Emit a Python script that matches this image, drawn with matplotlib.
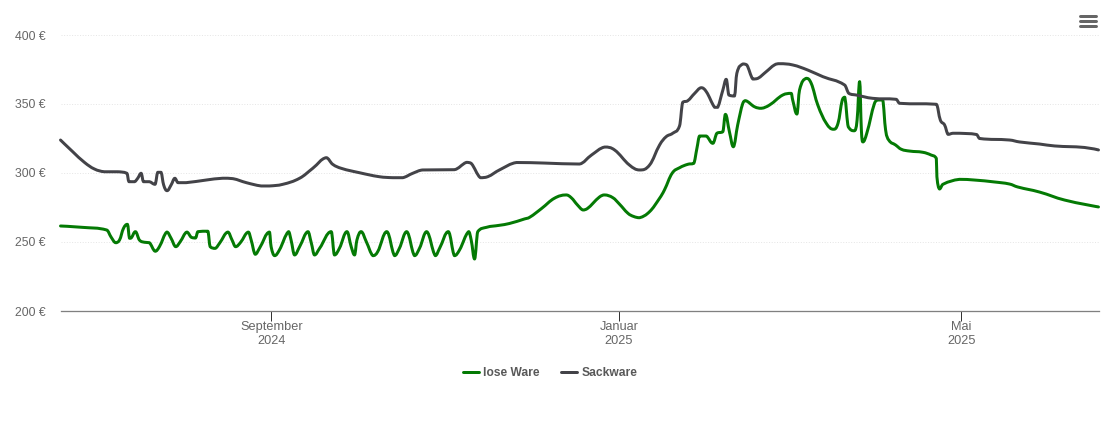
import numpy as np
import matplotlib
matplotlib.use("Agg")
import matplotlib.pyplot as plt
import matplotlib.dates as mdates
from matplotlib.lines import Line2D
from matplotlib.patches import PathPatch
from matplotlib.path import Path

plt.rcParams['font.family'] = ['Liberation Sans', 'DejaVu Sans']

# Tage seit dem Start der Zeitachse, Preise in Euro
START = "2024-06-19"
ENDE_TAGE = 364.2

tage_lose = [0, 7.8, 16.2, 17.8, 19.3, 20.7, 22.1, 23.5, 24.2, 24.8, 26.3, 27.7, 29.5, 31.2, 33.2, 34.7,
             37.3, 38.8, 40.4, 42, 44.3, 45.9, 47.4, 48.2, 51.7, 52.5, 54.3, 55.8, 58.7, 60.2, 61.4, 63.1,
             65.9, 66.9, 68.3, 69.8, 73.3, 73.9, 75.1, 76.8, 80, 80.9, 82.1, 83.9, 86.8, 88, 89.1, 90.9,
             95, 96.1, 97.9, 100.5, 102, 103.2, 104, 105.5, 107.3, 109.6, 111.3, 114.5, 117.2, 118.9,
             121.5, 124.2, 126, 128.5, 131.5, 133, 136.1, 138.2, 140, 143.2, 144.1, 145.3, 146.4, 149.4,
             154, 157.5, 162.8, 164.6, 168.8, 173.3, 177.4, 179.2, 181.4, 183.3, 184.9, 186.8, 189.1,
             190.9, 193.8, 196.1, 199.1, 201.1, 203.2, 206.7, 210.2, 211.9, 214.6, 217.2, 220.1, 222.2,
             223.3, 224.2, 226.6, 228.9,
             230.3, 232.4, 233.3, 234.7, 236.1, 237.6, 239.4, 240.4, 243.5, 245.9, 248.8, 253.4, 256.4,
             256.9, 258.4, 259.3, 261.6, 263.4, 265.7, 268.7, 271.2, 272.8, 274.3, 275.2, 276.4, 278.6,
             279.5, 280.4, 281, 281.5, 282.9, 285.6, 286.8, 288.5, 289.5, 290.6, 293, 295, 297.9, 302.6,
             305.5, 307.3, 307.5, 308.4, 309.6, 315.4, 320.7, 327.7, 333, 335.8, 343.5, 352.3, 364.2]
preis_lose = [261.6, 260.6, 258.7, 253.4, 249.5, 251.4, 259.9, 262.8, 252.7, 252.9, 257.5, 251.4, 249.8, 249.5, 243.3, 246.6,
              257.2, 252.7, 246.6, 250.2, 257.2, 253.4, 252.9, 257.5, 257.8, 246.6, 245.4, 249.1, 257.2, 251.4, 246.6, 249.5,
              257.2, 251.4, 241.1, 245.4, 257.2, 246.6, 240.1, 244.2, 257.5, 251.4, 240.6, 246.6, 257.5, 249.3, 240.6, 245.4,
              257.5, 240.6, 245.6, 257.5, 246.6, 240.6, 251.4, 257.5, 250.2, 240.1, 243, 257.5, 240.1, 245.4,
              257.5, 240.1, 245.6, 257.5, 240.1, 245.4, 257.5, 240.1, 244.2, 257.5, 251.4, 237.7, 257.5, 260.6,
              262.1, 263.4, 266.7, 267.9, 274.3, 281.7, 284.1, 282.1, 276.8, 273.2, 274.3, 278, 282.6,
              284.1, 282.1, 277.5, 270.8, 268.5, 267.6, 272, 281.7, 287.7, 299.8, 303.8, 306.3, 307,
              317.9, 326.8, 326.8, 321.5,
              328.8, 329.9, 342.5, 329.9, 319, 334.8, 350.5, 352.4, 348, 346.9, 349.3, 356.5, 357.7,
              352.9, 342.7, 360.1, 368.6, 365, 349.3, 336, 331.7, 336, 352.9, 354.9, 333.5, 330.6,
              338.4, 366.2, 331.2, 322.5, 328.8, 350.5, 352.9, 352.9, 331.2, 323.9, 320.3, 317.2, 315.9, 315,
              313, 310.6, 297.3, 288.4, 291.8, 295.4, 294.9, 293.5, 292, 289.9, 286.2, 280.4, 275.4]

tage_sack = [0, 4.3, 8.4, 11.9, 15.4, 20.1, 23.3, 24, 26, 27.1, 28.3, 29.1, 31.2, 33.2, 34.1, 35.3, 36.2, 37.4,
             38.8, 40.1, 41.2, 44.1, 51.1, 56.9, 60.5, 65.2, 70.4, 73.3, 78, 83.9, 88.5, 93.2, 95.5, 98.5,
             104.9, 111.9, 116.6, 120.1, 123.6, 127.1, 138.2, 142.4, 144.1, 147.3, 149.9, 154, 160, 169.8,
             182.1, 186.3, 190.9, 194.4, 199.6, 203.2, 206.7, 210.2, 212.5, 214.8, 217.2, 218.3, 220.1,
             222.5, 224.8, 226.6, 229.5, 230.6, 232.4, 233.6, 234.5, 236.5, 237.3, 239.4, 240.8, 242.9,
             244.7, 247.6, 250.5, 252.3, 256.9, 262.2, 267.5, 275.1, 276.6, 279.2, 285, 293.2, 294.4,
             307.3, 308.7, 310.2, 311.4, 313.1, 315.4, 321.4, 322.5, 333, 336.5, 343.5, 348.8, 359.3, 364.2]
preis_sack = [323.9, 315.4, 307.7, 302.9, 300.9, 300.9, 299.8, 293.7, 293.7, 296.2, 299.8, 293.7, 293.7, 291.8, 300.5, 300.5, 291.3, 287.2,
              291.3, 296.2, 293, 293, 294.9, 296.2, 295.9, 293, 290.6, 290.6, 291.8, 296.2, 303.4, 311.1, 306.3, 303.4,
              300.2, 297.3, 296.6, 296.6, 299.8, 302.2, 302.4, 307.7, 307, 296.6, 297.3, 302.2, 307.6, 307.2,
              306.5, 313, 318.8, 316.7, 305.8, 302.2, 305.8, 320.3, 326.3, 328.8, 334.1, 351.2, 352.4,
              357.7, 361.8, 358.9, 347.6, 347.6, 360.1, 367.9, 356.5, 355.8, 372.2, 379, 378.3, 368.1,
              368.6, 373.4, 378.3, 379.2, 378.3, 374.6, 369.8, 363.8, 357.7, 356.5, 354.1, 353.4, 350.5,
              349.8, 338.4, 334.8, 328, 328.8, 328.8, 327.9, 325, 323.9, 322.5, 321, 319.6, 318.5, 316.7]

y_ticks = [200, 250, 300, 350, 400]
x_tick_daten = ["2024-09-01", "2025-01-01", "2025-05-01"]
x_tick_namen = ["September\n2024", "Januar\n2025", "Mai\n2025"]

GRUEN = '#047a04'
GRAU = '#434348'
TEXT = '#666666'


def spline_pfad(x, y, smoothing=1.5):
    """Bezier-Pfad durch die Messpunkte, Kontrollpunkte wie bei einer Highcharts-Spline."""
    x = np.asarray(x, dtype=float)
    y = np.asarray(y, dtype=float)
    d = smoothing + 1
    verts = [(x[0], y[0])]
    codes = [Path.MOVETO]
    links = [None] * len(x)
    rechts = [None] * len(x)
    rechts[0] = (x[0], y[0])
    links[-1] = (x[-1], y[-1])
    for i in range(1, len(x) - 1):
        lx = (smoothing * x[i] + x[i - 1]) / d
        ly = (smoothing * y[i] + y[i - 1]) / d
        rx = (smoothing * x[i] + x[i + 1]) / d
        ry = (smoothing * y[i] + y[i + 1]) / d
        # Tangente so verschieben dass sie durch den Punkt geht
        kor = 0.0
        if rx != lx:
            kor = ((ry - ly) * (rx - x[i])) / (rx - lx) + y[i] - ry
        # kein Ueberschwingen ueber die Nachbarpunkte hinaus
        ly = np.clip(ly + kor, min(y[i - 1], y[i]), max(y[i - 1], y[i]))
        ry = np.clip(ry + kor, min(y[i + 1], y[i]), max(y[i + 1], y[i]))
        links[i] = (lx, ly)
        rechts[i] = (rx, ry)
    for i in range(1, len(x)):
        verts += [rechts[i - 1], links[i], (x[i], y[i])]
        codes += [Path.CURVE4] * 3
    return Path(verts, codes)


start_num = mdates.date2num(np.datetime64(START))
px = 1 / 100 * 72  # 1 Pixel in Punkten bei dpi=100

fig = plt.figure(figsize=(11.10, 4.22), dpi=100)
ax = fig.add_axes([60.5 / 1110, 1 - 311 / 422, 1038 / 1110, (311 - 35) / 422])

for name, tage, preis, farbe in [('lose', tage_lose, preis_lose, GRUEN), ('sack', tage_sack, preis_sack, GRAU)]:
    pfad = spline_pfad(start_num + np.array(tage), preis)
    ax.add_patch(PathPatch(pfad, facecolor='none', edgecolor=farbe, linewidth=3 * px,
                           capstyle='round', joinstyle='round', clip_on=False, zorder=3))

ax.set_xlim(start_num, start_num + ENDE_TAGE)
ax.set_ylim(200, 400)

ax.set_yticks(y_ticks)
ax.set_yticklabels([f"{v} €" for v in y_ticks])
ax.set_xticks([mdates.date2num(np.datetime64(d)) for d in x_tick_daten])
ax.set_xticklabels(x_tick_namen, linespacing=1.25)
ax.tick_params(axis='y', length=0, pad=15 * px, labelsize=12.2 * px, labelcolor=TEXT)
ax.tick_params(axis='x', length=10 * px, width=1 * px, color='#333333', pad=0,
               labelsize=12.7 * px, labelcolor=TEXT)

ax.grid(axis='y', color='#e6e6e6', linestyle=':', linewidth=1 * px)
ax.set_axisbelow(True)
for s in ['top', 'left', 'right']:
    ax.spines[s].set_visible(False)
ax.spines['bottom'].set_color('#808080')
ax.spines['bottom'].set_linewidth(1.3 * px)

griffe = [Line2D([], [], color=GRUEN, linewidth=3 * px, solid_capstyle='round'),
          Line2D([], [], color=GRAU, linewidth=3 * px, solid_capstyle='round')]
leg = fig.legend(griffe, ['lose Ware', 'Sackware'], loc='center', ncol=2, frameon=False,
                 bbox_to_anchor=(550 / 1110, 1 - 373 / 422), handlelength=1.33, handletextpad=0.38,
                 columnspacing=1.75, borderpad=0, prop={'size': 12 * px, 'weight': 'bold'})
for t in leg.get_texts():
    t.set_color('#595959')

# Menue-Symbol oben rechts
for y_px in [16, 21, 26]:
    fig.add_artist(Line2D([1080 / 1110, 1096 / 1110], [1 - y_px / 422] * 2, color=TEXT,
                          linewidth=3 * px, solid_capstyle='round'))

fig.savefig('out.png', dpi=100)
